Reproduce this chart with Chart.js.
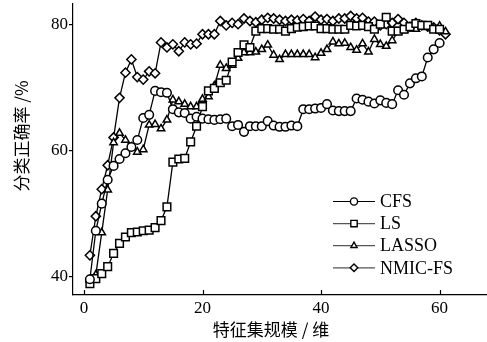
<!DOCTYPE html>
<html lang="zh">
<head>
    <meta charset="UTF-8">
    <title>特征集规模与分类正确率</title>
    <script src="https://cdn.jsdelivr.net/npm/chart.js"></script>
    <style>
        html, body { margin: 0; padding: 0; background: #fff; overflow: hidden; }
        #wrap { width: 487px; height: 342px; position: relative; overflow: hidden; }
        #accChart { display: block; }
    </style>
</head>
<body>
    <div id="wrap">
        <canvas id="accChart"></canvas>
    </div>

    <script>
        // 特征数 (x)
        const featureCounts = [
            1, 2, 3, 4, 5, 6, 7, 8, 9, 10, 11, 12, 13, 14, 15, 16, 17, 18, 19, 20,
            21, 22, 23, 24, 25, 26, 27, 28, 29, 30, 31, 32, 33, 34, 35, 36, 37, 38, 39, 40,
            41, 42, 43, 44, 45, 46, 47, 48, 49, 50, 51, 52, 53, 54, 55, 56, 57, 58, 59, 60, 61
        ];

        // 各方法的分类正确率 (%)
        const cfsAcc = [
            39.5, 47.2, 51.5, 55.3, 57.5, 58.6, 59.5, 60.5, 61.6, 65.1,
            65.6, 69.4, 69.2, 69.1, 66.5, 66.0, 65.9, 65.0, 65.3, 65.0,
            64.9, 64.8, 64.9, 65.0, 63.8, 64.0, 62.9, 63.8, 63.8, 63.8,
            64.6, 63.9, 63.7, 63.7, 63.9, 63.8, 66.5, 66.5, 66.6, 66.7,
            67.3, 66.3, 66.2, 66.2, 66.2, 68.2, 68.0, 67.7, 67.4, 67.9,
            67.5, 67.3, 69.5, 68.8, 70.6, 71.4, 71.7, 74.7, 76.0, 77.0
        ];
        const lsAcc = [
            38.8, 39.6, 40.4, 41.5, 43.6, 45.2, 46.2, 46.9, 47.0, 47.2,
            47.3, 47.7, 48.8, 51.0, 58.1, 58.6, 58.7, 61.3, 63.8, 66.9,
            69.4, 69.8, 70.7, 71.1, 74.0, 75.5, 76.7, 76.3, 78.9, 79.3,
            79.3, 79.2, 79.2, 78.9, 79.3, 79.5, 79.6, 79.7, 79.7, 79.3,
            79.3, 79.2, 79.2, 79.2, 79.8, 79.7, 79.8, 79.6, 79.2, 80.0,
            81.1, 78.9, 78.9, 79.2, 79.6, 80.1, 79.8, 79.8, 79.2, 79.2
        ];
        const lassoAcc = [
            39.4, 40.2, 46.9, 53.7, 61.2, 62.7, 61.6, 60.5, 59.7, 60.1,
            64.0, 64.1, 63.4, 64.8, 68.0, 67.7, 67.3, 66.9, 66.9, 68.1,
            68.5, 70.2, 73.5, 73.0, 73.5, 74.6, 75.5, 75.5, 75.6, 76.0,
            76.7, 75.1, 74.4, 75.2, 75.2, 75.2, 75.2, 75.2, 74.7, 75.4,
            76.0, 77.2, 76.9, 77.0, 76.3, 75.9, 76.9, 75.6, 77.6, 76.8,
            76.5, 77.4, 78.8, 79.0, 79.3, 79.2, 79.7, 79.5, 79.2, 79.7, 78.8
        ];
        const nmicAcc = [
            43.3, 49.5, 53.8, 57.6, 62.0, 68.3, 72.3, 74.4, 71.6, 71.2,
            72.5, 72.2, 77.1, 76.3, 76.8, 75.7, 77.1, 76.8, 76.9, 78.4,
            78.4, 78.4, 80.5, 79.8, 80.2, 80.0, 80.9, 80.5, 80.3, 80.7,
            81.0, 80.9, 80.7, 80.5, 80.7, 80.6, 80.8, 80.5, 81.2, 80.7,
            80.8, 80.5, 80.9, 80.9, 81.3, 80.9, 81.0, 80.4, 80.4, 79.8,
            80.0, 80.2, 80.8, 80.2, 79.6, 80.2, 79.8, 79.6, 79.5, 79.0, 78.4
        ];

        const seriesNames = ['CFS', 'LS', 'LASSO', 'NMIC-FS'];
        const xTicks = [0, 20, 40, 60];
        const yTicks = [40, 60, 80];

        function toPoints(vals) {
            return vals.map((v, i) => ({ x: featureCounts[i], y: v }));
        }

        const serif = 'Liberation Serif, Times New Roman, serif';
        const cjk = '"Noto Sans CJK SC", sans-serif';

        // 手画图例 (线 + 标记)
        const legendLines = {
            id: 'legendLines',
            afterDraw(chart) {
                const ctx = chart.ctx;
                const legendMarks = [
                    { style: 'circle', r: 3.6 },
                    { style: 'rect', r: 4.5 },
                    { style: 'triangle', r: 3.6 },
                    { style: 'rectRot', r: 3.8 }
                ];
                ctx.save();
                chart.data.datasets.forEach((ds, i) => {
                    const y = 201.5 + i * 22.1;
                    ctx.strokeStyle = i === 0 ? '#000' : '#555';
                    ctx.lineWidth = 1.2;
                    ctx.beginPath();
                    ctx.moveTo(333, y);
                    ctx.lineTo(375, y);
                    ctx.stroke();
                    ctx.fillStyle = '#fff';
                    ctx.strokeStyle = '#000';
                    ctx.lineWidth = 1.4;
                    Chart.helpers.drawPoint(ctx, {
                        pointStyle: legendMarks[i].style,
                        radius: legendMarks[i].r,
                        rotation: 0,
                        borderWidth: 1.4
                    }, 354, y);
                    ctx.fillStyle = '#000';
                    ctx.font = '18px ' + serif;
                    ctx.textBaseline = 'middle';
                    ctx.textAlign = 'left';
                    ctx.fillText(ds.label, 380, y + 1);
                });
                ctx.restore();
            }
        };

        // x 轴刻度朝内, 轴标题
        const axisExtras = {
            id: 'axisExtras',
            afterDraw(chart) {
                const ctx = chart.ctx;
                const xs = chart.scales.x;
                const area = chart.chartArea;
                ctx.save();
                ctx.strokeStyle = '#000';
                ctx.lineWidth = 1.2;
                xs.ticks.forEach(t => {
                    const px = Math.round(xs.getPixelForValue(t.value)) + 0.5;
                    ctx.beginPath();
                    ctx.moveTo(px, area.bottom);
                    ctx.lineTo(px, area.bottom - 5);
                    ctx.stroke();
                });
                ctx.fillStyle = '#000';
                ctx.font = '17px ' + cjk;
                ctx.textAlign = 'center';
                ctx.textBaseline = 'middle';
                ctx.fillText('特征集规模 / 维', 271, 330);
                ctx.translate(22, 136);
                ctx.rotate(-Math.PI / 2);
                ctx.fillText('分类正确率 /%', 0, 0);
                ctx.restore();
            }
        };

        const ctx = document.getElementById('accChart').getContext('2d');
        const markers = [
            { style: 'circle', r: 4.3 },
            { style: 'rect', r: 5.4 },
            { style: 'triangle', r: 4.3 },
            { style: 'rectRot', r: 4.6 }
        ];
        const allSeries = [cfsAcc, lsAcc, lassoAcc, nmicAcc];

        new Chart(ctx, {
            type: 'line',
            data: {
                datasets: allSeries.map((vals, i) => ({
                    label: seriesNames[i],
                    data: toPoints(vals),
                    borderColor: '#000',
                    borderWidth: 1.3,
                    backgroundColor: '#fff',
                    pointStyle: markers[i].style,
                    pointRadius: markers[i].r,
                    pointBorderWidth: 1.5,
                    pointBackgroundColor: '#fff',
                    pointBorderColor: '#000',
                    tension: 0,
                    fill: false
                }))
            },
            options: {
                responsive: true,
                maintainAspectRatio: false,
                animation: false,
                layout: {
                    autoPadding: false,
                    padding: { top: 4, right: 0, left: 0, bottom: 0 }
                },
                plugins: {
                    legend: { display: false },
                    tooltip: { enabled: false }
                },
                scales: {
                    x: {
                        type: 'linear',
                        min: -1.85,
                        max: 68,
                        afterBuildTicks(scale) {
                            scale.ticks = xTicks.map(v => ({ value: v }));
                        },
                        afterFit(scale) {
                            scale.height = 47;
                            scale.paddingLeft = 0;
                            scale.paddingRight = 0;
                        },
                        grid: { display: false, drawTicks: false },
                        border: { display: true, color: '#000', width: 1.2 },
                        ticks: {
                            color: '#000',
                            padding: 3,
                            font: { family: serif, size: 17 }
                        }
                    },
                    y: {
                        min: 37,
                        max: 83.2,
                        afterBuildTicks(scale) {
                            scale.ticks = yTicks.map(v => ({ value: v }));
                        },
                        afterFit(scale) {
                            scale.width = 73;
                            scale.paddingTop = 0;
                            scale.paddingBottom = 0;
                        },
                        grid: {
                            drawOnChartArea: false,
                            drawTicks: true,
                            tickLength: 4,
                            color: '#000',
                            lineWidth: 1.2
                        },
                        border: { display: true, color: '#000', width: 1.2 },
                        ticks: {
                            color: '#000',
                            padding: 1,
                            font: { family: serif, size: 17 }
                        }
                    }
                }
            },
            plugins: [legendLines, axisExtras]
        });
    </script>
</body>
</html>
